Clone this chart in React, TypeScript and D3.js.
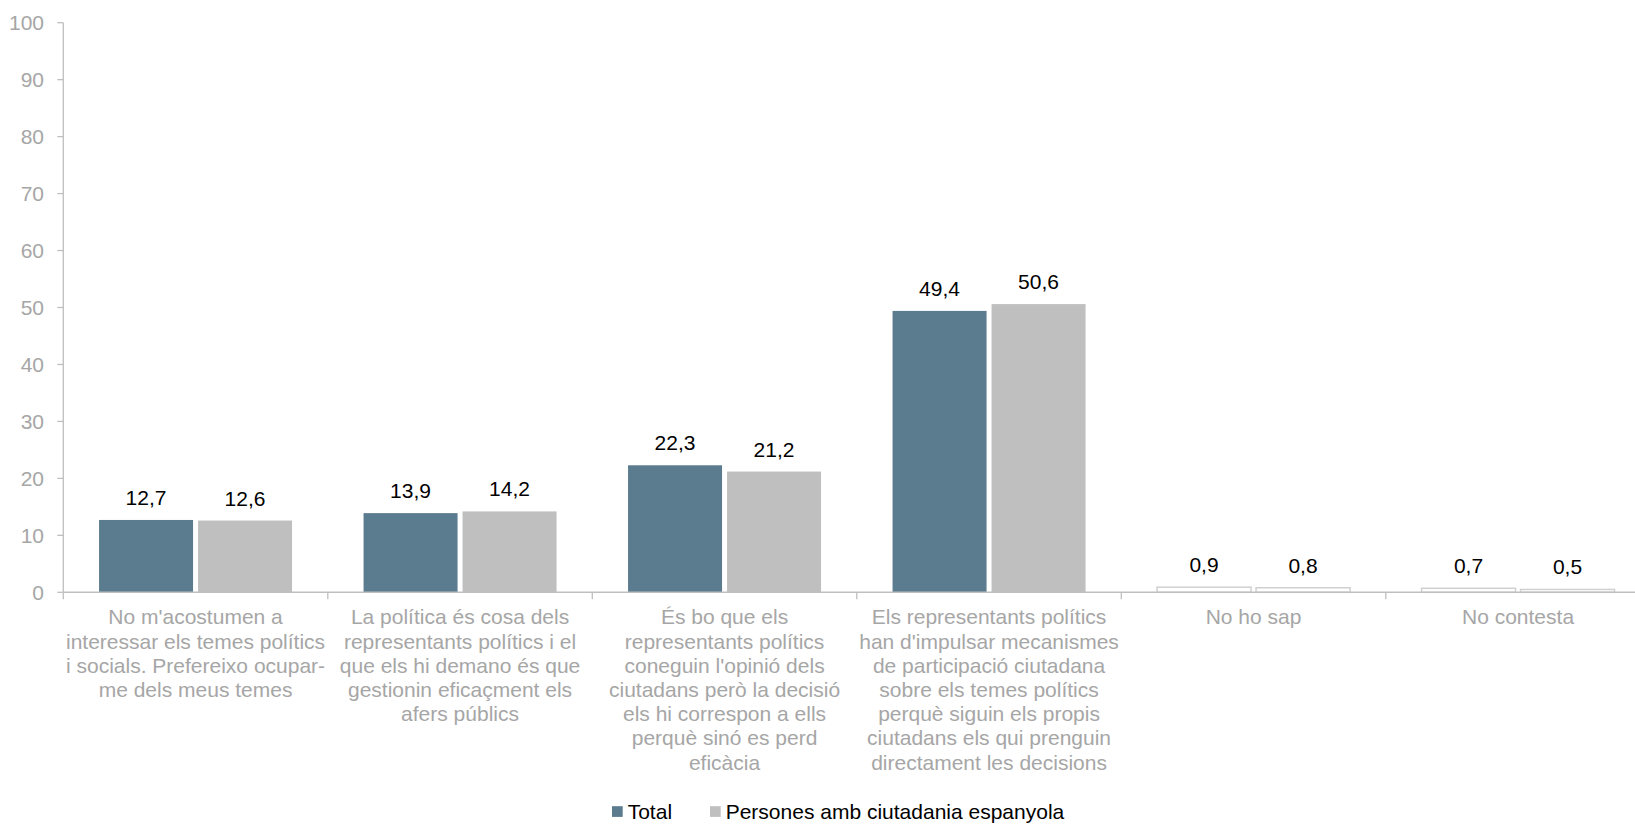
import React from "react";
import * as d3 from "d3";

const categories: string[][] = [
  ["No m'acostumen a", "interessar els temes polítics", "i socials. Prefereixo ocupar-", "me dels meus temes"],
  ["La política és cosa dels", "representants polítics i el", "que els hi demano és que", "gestionin eficaçment els", "afers públics"],
  ["És bo que els", "representants polítics", "coneguin l'opinió dels", "ciutadans però la decisió", "els hi correspon a ells", "perquè sinó es perd", "eficàcia"],
  ["Els representants polítics", "han d'impulsar mecanismes", "de participació ciutadana", "sobre els temes polítics", "perquè siguin els propis", "ciutadans els qui prenguin", "directament les decisions"],
  ["No ho sap"],
  ["No contesta"],
];
const seriesNames = ["Total", "Persones amb ciutadania espanyola"];
const totalValues = [12.7, 13.9, 22.3, 49.4, 0.9, 0.7];
const spanishValues = [12.6, 14.2, 21.2, 50.6, 0.8, 0.5];
const yTicks = [0, 10, 20, 30, 40, 50, 60, 70, 80, 90, 100];
const outlinedCategories = [4, 5];

const W = 1635;
const H = 824;
const colors = ["#5b7b8f", "#bfbfbf"];
const axisColor = "#bfbfbf";
const textGrey = "#a6a6a6";
const FONT = "'Liberation Sans', Arial, sans-serif";
const FS = 21;

export default function App() {
  const x0 = 63.3;
  const catW = 264.5;
  const ids = categories.map((_, i) => String(i));
  const x = d3.scaleBand<string>().domain(ids).range([x0, x0 + catW * categories.length]).padding(0);
  const step = 99;
  const pi = 5 / 99;
  const po = (catW / step - 2 + pi) / 2;
  const xs = d3.scaleBand<string>().domain(seriesNames).range([0, x.bandwidth()]).paddingInner(pi).paddingOuter(po);
  const y = d3.scaleLinear().domain([0, 100]).range([592.3, 22.7]);
  const series = [totalValues, spanishValues];
  const fmt = (v: number) => v.toFixed(1).replace(".", ",");
  const legY = 819.2;

  return (
    <svg width={W} height={H} style={{ position: "absolute", left: 0, top: 0 }} fontFamily={FONT}>
      <rect width={W} height={H} fill="#fff" />
      {/* y axis */}
      <line x1={x0} x2={x0} y1={y(100)} y2={y(0)} stroke={axisColor} strokeWidth={1.3} />
      {yTicks.map((t) => (
        <g key={t}>
          <line x1={x0 - 6} x2={x0} y1={y(t)} y2={y(t)} stroke={axisColor} strokeWidth={1.3} />
          <text x={44} y={y(t)} dy="0.35em" textAnchor="end" fontSize={FS} fill={textGrey}>
            {t}
          </text>
        </g>
      ))}
      {/* bars */}
      {ids.map((id, ci) =>
        series.map((vals, si) => {
          const outlined = outlinedCategories.includes(ci);
          const bx = (x(id) as number) + (xs(seriesNames[si]) as number);
          const bw = xs.bandwidth();
          const top = y(vals[ci]);
          return (
            <g key={id + "-" + si}>
              <rect
                x={bx}
                y={top}
                width={bw}
                height={y(0) - top}
                fill={outlined ? "#fff" : colors[si]}
                stroke={outlined ? "#d0d0d0" : "none"}
                strokeWidth={outlined ? 1.5 : 0}
              />
              <text x={bx + bw / 2} y={top - 15} textAnchor="middle" fontSize={FS} fill="#000">
                {fmt(vals[ci])}
              </text>
            </g>
          );
        })
      )}
      {/* x axis */}
      <line x1={x0} x2={W} y1={y(0)} y2={y(0)} stroke={axisColor} strokeWidth={1.5} />
      {ids.map((id) => (
        <line key={"t" + id} x1={x(id) as number} x2={x(id) as number} y1={y(0)} y2={y(0) + 7} stroke={axisColor} strokeWidth={1.3} />
      ))}
      {categories.map((lines, ci) => (
        <text key={"c" + ci} textAnchor="middle" fontSize={FS} fill={textGrey}>
          {lines.map((ln, li) => (
            <tspan key={li} x={(x(String(ci)) as number) + x.bandwidth() / 2} y={624.3 + li * 24.2}>
              {ln}
            </tspan>
          ))}
        </text>
      ))}
      {/* legend */}
      <rect x={612} y={legY - 13} width={10.7} height={10.7} fill={colors[0]} />
      <text x={627.7} y={legY} fontSize={FS} fill="#000">
        {seriesNames[0]}
      </text>
      <rect x={710} y={legY - 13} width={10.7} height={10.7} fill={colors[1]} />
      <text x={725.7} y={legY} fontSize={FS} fill="#000">
        {seriesNames[1]}
      </text>
    </svg>
  );
}
